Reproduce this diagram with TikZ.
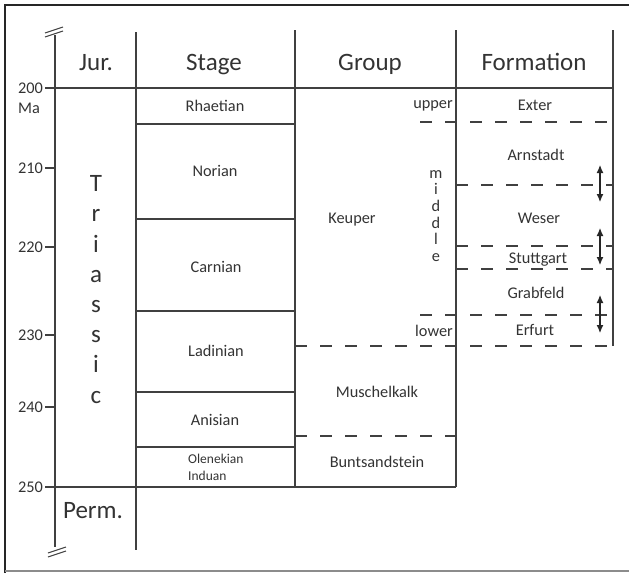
\documentclass[tikz,border=0pt]{standalone}
\usepackage{fontspec}
\setmainfont{Carlito}
\usetikzlibrary{arrows.meta}
\begin{document}
\begin{tikzpicture}[x=1pt,y=-1pt,
  ln/.style={line width=1.2pt,draw=black!75},
  brk/.style={line width=1pt,draw=black!75},
  dsh/.style={line width=1.2pt,draw=black!75,dash pattern=on 12pt off 13pt},
  frm/.style={line width=2.4pt,draw=black!85},
  hdr/.style={inner sep=0pt,anchor=base,font=\fontsize{25}{28}\selectfont,text=black!80},
  lbl/.style={inner sep=0pt,anchor=base,font=\fontsize{16.3}{18}\selectfont,text=black!80},
  sml/.style={inner sep=0pt,anchor=base west,font=\fontsize{13.5}{15}\selectfont,text=black!80},
  dbl/.style={line width=1.1pt,draw=black!85,{Latex[length=8pt,width=7pt]}-{Latex[length=8pt,width=7pt]}},
]
\useasboundingbox (0,0) rectangle (629,573);
% frame
\coordinate (f1) at (5,573); \coordinate (f2) at (5,5); \coordinate (f3) at (629,5);
\draw[frm] (f1) -- (f2) -- (f3);
\coordinate (f4) at (5,571); \coordinate (f5) at (629,571);
\draw[line width=2pt,draw=black!45] (f4) -- (f5);

% time axis
\coordinate (ax1) at (55,35); \coordinate (ax2) at (55,547);
\draw[ln] (ax1) -- (ax2);
\draw[brk] (45,33) -- (63,27) (45,37) -- (63,31);
\draw[brk] (48,553) -- (66,547) (48,557) -- (66,551);

% ticks and labels
\foreach \v/\y/\b in {200/88/93,210/168/173,220/247/252,230/335/340,240/407/412,250/487/492}{
  \draw[ln] (45,\y) -- (55,\y);
  \node[lbl,anchor=base east] (t\v) at (43,\b) {\v};
}
\node[lbl,anchor=base west] (ma) at (18,113) {Ma};

% long horizontal lines
\draw[ln] (55,88) -- (613,88);
\draw[ln] (55,487) -- (456,487);

% column lines
\draw[ln] (136,32) -- (136,550);
\draw[ln] (295,30) -- (295,487);
\draw[ln] (456,30) -- (456,487);
\draw[ln] (613,30) -- (613,346);

% stage boundaries
\foreach \y in {124,219,311,392,447}{
  \draw[ln] (136,\y) -- (295,\y);
}

% dashed boundaries
\draw[dsh] (420,122) -- (613,122);
\draw[dsh] (456,185) -- (613,185);
\draw[dsh] (456,246) -- (613,246);
\draw[dsh] (456,269) -- (613,269);
\draw[dsh] (420,315) -- (613,315);
\draw[dsh] (295,346) -- (613,346);
\draw[dsh] (295,436) -- (456,436);

% arrows
\coordinate (a1) at (600,165); \coordinate (a2) at (600,202);
\coordinate (b1) at (600,228); \coordinate (b2) at (600,265);
\coordinate (c1) at (600,295); \coordinate (c2) at (600,333);
\draw[dbl] (a1) -- (a2);
\draw[dbl] (b1) -- (b2);
\draw[dbl] (c1) -- (c2);

% headers
\node[hdr] (hjur) at (96,70) {Jur.};
\node[hdr] (hstage) at (214,70) {Stage};
\node[hdr] (hgroup) at (370,70) {Group};
\node[hdr] (hform) at (534,70) {Formation};

% stages
\node[lbl] (rh) at (215,111) {Rhaetian};
\node[lbl] (no) at (215,176) {Norian};
\node[lbl] (ca) at (216,272) {Carnian};
\node[lbl] (la) at (216,356) {Ladinian};
\node[lbl] (an) at (215,425) {Anisian};
\node[sml] (ol) at (188,463) {Olenekian};
\node[sml] (in) at (188,480) {Induan};

% groups
\node[lbl] (ke) at (352,223) {Keuper};
\node[lbl] (mu) at (377,397) {Muschelkalk};
\node[lbl] (bu) at (377,467) {Buntsandstein};
\node[lbl,anchor=base east] (up) at (453,108) {upper};
\node[lbl,anchor=base east] (lo) at (453,336) {lower};
\foreach \c [count=\i from 0] in {m,i,d,d,l,e}{
  \node[lbl] (mid\i) at (436,{178+16.7*\i}) {\c};
}

% formations
\node[lbl] (ex) at (535,110) {Exter};
\node[lbl] (ar) at (536,160) {Arnstadt};
\node[lbl] (we) at (539,223) {Weser};
\node[lbl] (st) at (538,263) {Stuttgart};
\node[lbl] (gr) at (536,298) {Grabfeld};
\node[lbl] (er) at (535,335) {Erfurt};

% periods
\foreach \c [count=\i from 0] in {T,r,i,a,s,s,i,c}{
  \node[hdr] (tri\i) at (96,{191.7+30.2*\i}) {\c};
}
\node[hdr] (perm) at (93,518) {Perm.};
\end{tikzpicture}
\end{document}
